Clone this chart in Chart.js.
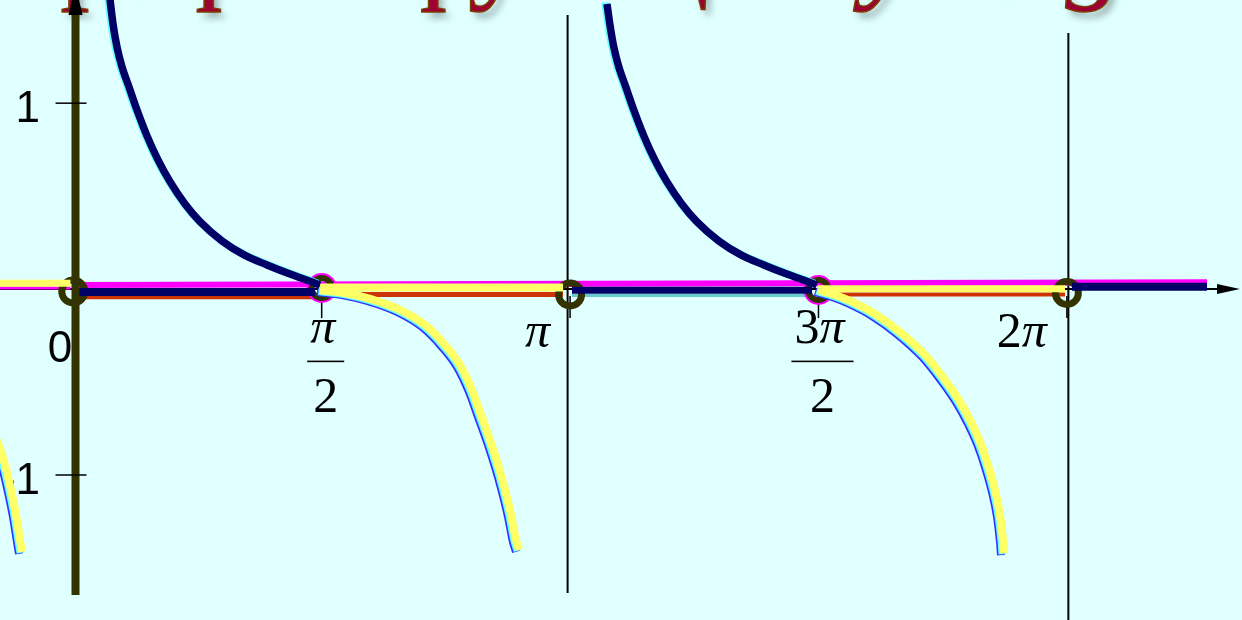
<!DOCTYPE html>
<html lang="ru">
<head>
<meta charset="utf-8">
<title>График функции y = ctg x</title>
<script src="https://cdn.jsdelivr.net/npm/chart.js@4/dist/chart.umd.min.js"></script>
<style>
    html, body { margin: 0; padding: 0; background: #e0ffff; overflow: hidden; }
    canvas { display: block; }
</style>
</head>
<body>
<canvas id="ctgCanvas" width="1242" height="620"></canvas>
<script>
// Деления осей (по оси X значения в долях π)
const xTicks = [0, 0.5, 1, 1.5, 2];
const xTickLabels = ['0', 'π/2', 'π', '3π/2', '2π'];
const yTicks = [1, -1];
const yTickLabels = ['1', '-1'];

// Заголовок слайда
const titleParts = [
    { text: 'График функции ', italic: false },
    { text: 'y', italic: true },
    { text: '=', italic: false },
    { text: 'ctg x', italic: true }
];

// Ветви графика, точки [x, y]
const branchUp1 = [[0.0729, 1.582], [0.0800, 1.426], [0.0880, 1.302], [0.0981, 1.195], [0.1122, 1.087],
    [0.1283, 0.963], [0.1484, 0.824], [0.1705, 0.695], [0.1947, 0.578], [0.2249, 0.458], [0.2551, 0.363],
    [0.2994, 0.259], [0.3457, 0.181], [0.3899, 0.130], [0.4362, 0.081], [0.4664, 0.052], [0.4845, 0.034],
    [0.4966, 0.022]];
const branchUp2 = [[1.0743, 1.534], [1.0800, 1.426], [1.0880, 1.302], [1.0981, 1.195], [1.1122, 1.087],
    [1.1283, 0.963], [1.1484, 0.824], [1.1705, 0.695], [1.1947, 0.578], [1.2249, 0.458], [1.2551, 0.363],
    [1.2994, 0.259], [1.3457, 0.181], [1.3899, 0.130], [1.4362, 0.081], [1.4664, 0.052], [1.4845, 0.034],
    [1.4966, 0.022]];
const branchDown0 = [[-0.1898, -0.543], [-0.1717, -0.677], [-0.1535, -0.812], [-0.1374, -0.946],
    [-0.1254, -1.081], [-0.1153, -1.215], [-0.1072, -1.350], [-0.1032, -1.414]];
const branchDown1 = [[0.4966, -0.005], [0.5469, -0.021], [0.5973, -0.053], [0.6577, -0.112], [0.7080, -0.193],
    [0.7482, -0.301], [0.7784, -0.408], [0.8026, -0.543], [0.8207, -0.677], [0.8388, -0.812], [0.8549, -0.946],
    [0.8690, -1.081], [0.8811, -1.215], [0.8911, -1.350], [0.8972, -1.403]];
const branchDown2 = [[1.4990, -0.005], [1.5333, -0.032], [1.5635, -0.064], [1.6138, -0.134], [1.6641, -0.231],
    [1.7144, -0.354], [1.7547, -0.489], [1.7849, -0.607], [1.8070, -0.715], [1.8251, -0.822], [1.8412, -0.946],
    [1.8553, -1.081], [1.8654, -1.215], [1.8714, -1.350], [1.8734, -1.420]];

// Отрезки вдоль оси X
const magentaAxis = [[0.0035, 0.022], [2.2821, 0.037]];
const magentaLeft = [[-0.1475, 0.006], [-0.0056, 0.006]];
const yellowLeft = [[-0.1475, 0.031], [-0.0056, 0.031]];
const navySeg1 = [[0.0075, -0.016], [0.4866, -0.016]];
const orangeSeg1 = [[0.0035, -0.045], [0.4866, -0.045]];
const yellowSeg2 = [[0.4966, 0.009], [0.9858, 0.009]];
const orangeSeg2 = [[0.4966, -0.029], [0.9858, -0.029]];
const navySeg3 = [[1.0039, -0.0065], [1.4870, -0.0065]];
const tealSeg3 = [[1.0039, -0.034], [1.4870, -0.034]];
const yellowSeg4 = [[1.4990, 0.002], [1.9962, 0.002]];
const orangeSeg4 = [[1.4990, -0.029], [1.9962, -0.029]];
const navySeg5 = [[2.0103, 0.013], [2.2821, 0.013]];

// Выколотые точки
const holesAxis = [[0, -0.013], [1, -0.029], [2, -0.021]];
const holesHalf = [[0.5, 0.006], [1.5, -0.005]];

// Ось Y и асимптоты
const lineYAxis = [[0.0045, 1.518], [0.0045, -1.646]];
const linePi = [[0.995, 1.474], [0.995, -1.635]];
const lineTwoPi = [[2.003, 1.377], [2.003, -1.78]];

const X_MIN = -0.1475, X_MAX = 2.3525;
const Y_MIN = -1.78, Y_MAX = 1.555;

const SANS = '"Liberation Sans", Arial, sans-serif';
const SERIF = '"Liberation Serif", "Times New Roman", serif';

const CtgGraph = {
    /**
     * Набор данных для линии
     * @param {Array} points - точки [x, y]
     * @param {string} color - цвет линии
     * @param {number} width - толщина
     * @param {number} order - порядок отрисовки
     * @param {object} extra - дополнительные параметры
     */
    line(points, color, width, order, extra = {}) {
        return Object.assign({
            data: points.map(p => ({ x: p[0], y: p[1] })),
            showLine: true,
            borderColor: color,
            borderWidth: width,
            pointRadius: 0,
            pointHoverRadius: 0,
            fill: false,
            order: order
        }, extra);
    },

    /**
     * Кольца (выколотые точки)
     */
    rings(points, color, radius, width, order) {
        return {
            data: points.map(p => ({ x: p[0], y: p[1] })),
            showLine: false,
            pointStyle: 'circle',
            pointRadius: radius,
            pointHoverRadius: radius,
            pointBorderWidth: width,
            pointBorderColor: color,
            pointBackgroundColor: 'rgba(0, 0, 0, 0)',
            order: order
        };
    },

    /**
     * Цифры прямым шрифтом, π курсивом
     */
    drawMath(ctx, text, x, y, align) {
        const parts = text.split('').map(ch => ({
            ch: ch,
            font: (ch === 'π' ? 'italic ' : '') + '50px ' + SERIF
        }));
        let total = 0;
        parts.forEach(p => {
            ctx.font = p.font;
            p.w = ctx.measureText(p.ch).width;
            total += p.w;
        });
        let cx = align === 'center' ? x - total / 2 : (align === 'right' ? x - total : x);
        ctx.textAlign = 'left';
        parts.forEach(p => {
            ctx.font = p.font;
            ctx.fillText(p.ch, cx, y);
            cx += p.w;
        });
        return total;
    },

    drawTitle(ctx) {
        ctx.save();
        ctx.textAlign = 'left';
        ctx.textBaseline = 'alphabetic';
        let x = 0;
        const y = -13;
        titleParts.forEach(part => {
            ctx.font = (part.italic ? 'italic ' : '') + '117px ' + SERIF;
            ctx.shadowColor = 'rgba(0, 0, 0, 0.3)';
            ctx.shadowOffsetX = 5;
            ctx.shadowOffsetY = 6;
            ctx.shadowBlur = 7;
            ctx.fillStyle = '#9e0033';
            ctx.fillText(part.text, x, y);
            ctx.shadowColor = 'rgba(0, 0, 0, 0)';
            ctx.strokeStyle = '#7b3f00';
            ctx.lineWidth = 1.5;
            ctx.strokeText(part.text, x, y);
            x += ctx.measureText(part.text).width;
        });
        ctx.restore();
    },

    // Ось X, деления и подписи — под графиком
    drawAxes(chart) {
        const ctx = chart.ctx;
        const xs = chart.scales.x;
        const ys = chart.scales.y;
        const y0 = ys.getPixelForValue(0);
        const right = chart.chartArea.right - 2;

        ctx.save();
        ctx.strokeStyle = '#000';
        ctx.fillStyle = '#000';
        ctx.lineWidth = 2;
        ctx.beginPath();
        ctx.moveTo(chart.chartArea.left, y0);
        ctx.lineTo(right - 20, y0);
        ctx.stroke();
        ctx.beginPath();
        ctx.moveTo(right, y0);
        ctx.lineTo(right - 23, y0 - 5);
        ctx.lineTo(right - 23, y0 + 5);
        ctx.closePath();
        ctx.fill();

        // короткие деления на оси X
        ctx.lineWidth = 1.5;
        xTicks.forEach(v => {
            if (v === 0) return;
            const px = xs.getPixelForValue(v);
            ctx.beginPath();
            ctx.moveTo(px, y0 + 7);
            ctx.lineTo(px, y0 + 29);
            ctx.stroke();
        });

        ctx.textBaseline = 'alphabetic';
        xTickLabels.forEach((label, i) => {
            const px = xs.getPixelForValue(xTicks[i]);
            if (label === '0') {
                ctx.font = '44px ' + SANS;
                ctx.textAlign = 'right';
                ctx.fillText(label, px - 1, y0 + 73);
            } else if (label.includes('/')) {
                const [num, den] = label.split('/');
                const w = this.drawMath(ctx, num, px + 1, y0 + 54, 'center');
                ctx.fillRect(px + 4 - w / 2 - 6, y0 + 71.5, w + 12, 1.6);
                this.drawMath(ctx, den, px + 4, y0 + 123, 'center');
            } else {
                this.drawMath(ctx, label, px - 20, y0 + 58, 'right');
            }
        });

        ctx.font = '44px ' + SANS;
        ctx.textAlign = 'right';
        yTickLabels.forEach((label, i) => {
            const py = ys.getPixelForValue(yTicks[i]);
            ctx.fillText(label, 40, py + 19);
        });
        ctx.restore();
    },

    // Деления оси Y и стрелка — поверх оси
    drawYAxisMarks(chart) {
        const ctx = chart.ctx;
        const xs = chart.scales.x;
        const ys = chart.scales.y;
        const ax = xs.getPixelForValue(lineYAxis[0][0]);
        ctx.save();
        ctx.strokeStyle = '#000';
        ctx.fillStyle = '#000';
        ctx.lineWidth = 1.5;
        yTicks.forEach(v => {
            const py = ys.getPixelForValue(v);
            ctx.beginPath();
            ctx.moveTo(ax - 20, py);
            ctx.lineTo(ax + 11, py);
            ctx.stroke();
        });
        const top = ys.getPixelForValue(lineYAxis[0][1]);
        ctx.beginPath();
        ctx.moveTo(ax, top - 22);
        ctx.lineTo(ax - 7, top + 8);
        ctx.lineTo(ax + 7, top + 8);
        ctx.closePath();
        ctx.fill();
        ctx.restore();
    },

    render(canvasId) {
        const ctx = document.getElementById(canvasId).getContext('2d');
        const self = this;

        // Сдвиг подложки (цветная окантовка линий)
        const shiftPlugin = {
            id: 'shiftPlugin',
            beforeDatasetDraw(chart, args) {
                const ds = chart.data.datasets[args.index];
                chart.ctx.save();
                if (ds.shift) {
                    chart.ctx.translate(ds.shift[0], ds.shift[1]);
                }
            },
            afterDatasetDraw(chart) {
                chart.ctx.restore();
            }
        };

        const decorPlugin = {
            id: 'decorPlugin',
            beforeDatasetsDraw(chart) {
                self.drawTitle(chart.ctx);
                self.drawAxes(chart);
            },
            afterDatasetsDraw(chart) {
                self.drawYAxisMarks(chart);
            }
        };

        const mono = { cubicInterpolationMode: 'monotone' };
        const L = this.line.bind(this);

        // order: чем больше, тем раньше рисуется (ниже по слоям)
        const datasets = [
            L(lineYAxis, '#333300', 8, 1),

            // ветви: синие вверх, жёлтые вниз
            L(branchUp1, '#000066', 7.5, 10, mono),
            L(branchUp2, '#000066', 7.5, 10, mono),
            L(branchUp1, '#66ffff', 7.5, 11, Object.assign({ shift: [-2, -1.5] }, mono)),
            L(branchUp2, '#66ffff', 7.5, 11, Object.assign({ shift: [-2, -1.5] }, mono)),

            L(branchDown0, '#ffff66', 8, 10, mono),
            L(branchDown1, '#ffff66', 8, 10, mono),
            L(branchDown2, '#ffff66', 8, 10, mono),
            L(branchDown0, '#66ffff', 8, 11, Object.assign({ shift: [-1.5, 1] }, mono)),
            L(branchDown1, '#66ffff', 8, 11, Object.assign({ shift: [-1.5, 1] }, mono)),
            L(branchDown2, '#66ffff', 8, 11, Object.assign({ shift: [-1.5, 1] }, mono)),
            L(branchDown0, '#3333ff', 8, 12, Object.assign({ shift: [-3, 2] }, mono)),
            L(branchDown1, '#3333ff', 8, 12, Object.assign({ shift: [-3, 2] }, mono)),
            L(branchDown2, '#3333ff', 8, 12, Object.assign({ shift: [-3, 2] }, mono)),

            // отрезки на оси
            L(yellowLeft, '#ffff66', 7, 14),
            L(navySeg1, '#000066', 8, 14),
            L(yellowSeg2, '#ffff66', 8, 14),
            L(navySeg3, '#000066', 7, 14),
            L(yellowSeg4, '#ffff66', 7, 14),
            L(navySeg5, '#000066', 8, 14),

            this.rings(holesAxis, '#333300', 11.5, 7, 17),
            this.rings(holesHalf, '#333300', 10, 6, 17),
            this.rings(holesHalf, '#ff00ff', 13.5, 3, 18),

            L(orangeSeg1, '#cc3300', 3.5, 19),
            L(orangeSeg2, '#cc3300', 5, 19),
            L(tealSeg3, '#66cccc', 3, 19),
            L(orangeSeg4, '#cc3300', 4, 19),
            L(magentaAxis, '#ff00ff', 6, 20),
            L(magentaLeft, '#ff00ff', 3, 20),

            L(linePi, '#000000', 2, 22),
            L(lineTwoPi, '#000000', 2, 22)
        ];

        return new Chart(ctx, {
            type: 'scatter',
            data: { datasets: datasets },
            options: {
                responsive: false,
                animation: false,
                devicePixelRatio: 1,
                events: [],
                layout: { autoPadding: false, padding: 0 },
                plugins: {
                    legend: { display: false },
                    tooltip: { enabled: false },
                    title: { display: false }
                },
                scales: {
                    x: { type: 'linear', min: X_MIN, max: X_MAX, display: false },
                    y: { type: 'linear', min: Y_MIN, max: Y_MAX, display: false }
                }
            },
            plugins: [shiftPlugin, decorPlugin]
        });
    }
};

CtgGraph.render('ctgCanvas');
</script>
</body>
</html>
